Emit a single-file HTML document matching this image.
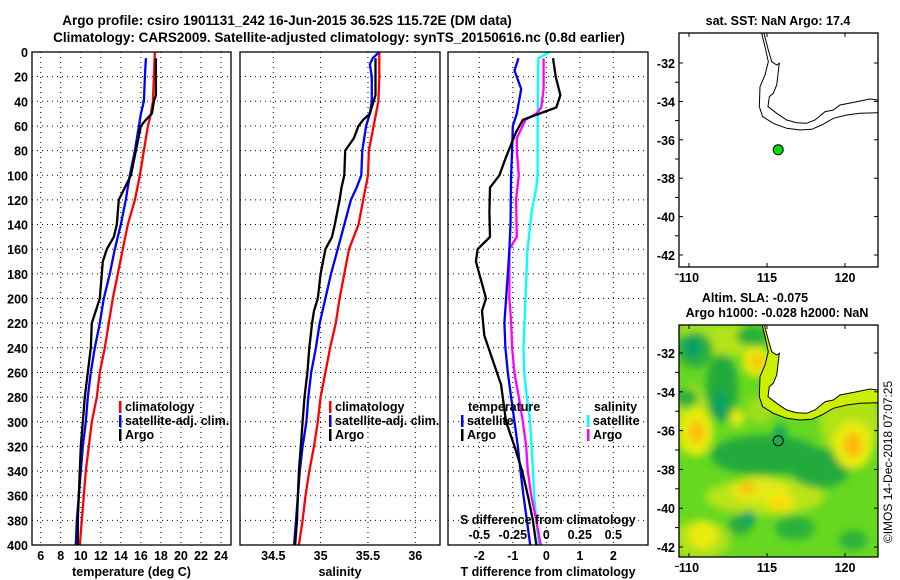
<!DOCTYPE html>
<html><head><meta charset="utf-8">
<style>
html,body{margin:0;padding:0;background:#fff;}
svg{display:block;font-family:"Liberation Sans",sans-serif;font-weight:bold;}
</style></head>
<body>
<svg id="fig" width="900" height="580" viewBox="0 0 900 580" xmlns="http://www.w3.org/2000/svg">
<defs>
<filter id="blur" x="-50%" y="-50%" width="200%" height="200%"><feGaussianBlur stdDeviation="4"/></filter>
<clipPath id="map2clip"><rect x="679" y="325" width="199" height="232"/></clipPath>
</defs>
<text x="287" y="25" font-size="13.5" text-anchor="middle">Argo profile: csiro 1901131_242 16-Jun-2015 36.52S 115.72E (DM data)</text>
<text x="339" y="42" font-size="13.5" text-anchor="middle">Climatology: CARS2009. Satellite-adjusted climatology: synTS_20150616.nc (0.8d earlier)</text>
<g id="panels"></g>
<g id="maps"></g>
<text transform="translate(892,462) rotate(-90)" font-size="12" font-weight="normal" text-anchor="middle">©IMOS 14-Dec-2018 07:07:25</text>
</svg>
<script>
// ---- Depth axis ----
const depthTicks = [0,20,40,60,80,100,120,140,160,180,200,220,240,260,280,300,320,340,360,380,400];
// ---- Panel 1: temperature ----
const tempTicks = [6,8,10,12,14,16,18,20,22,24];
const tClimDepth = [0,20,40,50,60,80,100,120,140,160,180,200,220,240,260,280,300,320,340,360,380,400];
const tClimVal   = [17.4,17.3,17.2,17.0,16.7,16.3,15.9,15.4,14.7,14.2,13.7,13.2,12.8,12.4,11.9,11.6,11.1,10.8,10.5,10.3,10.1,9.9];
const tSatDepth = [5,20,40,50,60,80,100,120,140,160,180,200,220,240,260,280,300,320,340,360,380,400];
const tSatVal   = [16.5,16.4,16.3,16.0,15.8,15.4,14.9,14.5,14.0,13.4,12.9,12.3,11.9,11.4,11.0,10.7,10.5,10.2,10.0,9.8,9.6,9.5];
const tArgoDepth = [5,20,35,40,50,55,60,80,100,120,140,150,160,170,180,200,220,240,260,280,300,320,340,360,380,400];
const tArgoVal   = [17.5,17.5,17.5,17.3,17.1,16.5,16.0,15.5,15.0,13.8,13.6,13.3,12.6,12.2,12.1,11.9,11.1,11.0,10.7,10.4,10.2,10.0,9.9,9.8,9.7,9.7];
// ---- Panel 2: salinity ----
const salTicks = [34.5,35,35.5,36];
const sClimDepth = [0,20,40,60,80,100,120,140,160,180,200,220,240,260,280,300,320,340,360,380,400];
const sClimVal   = [35.62,35.62,35.61,35.56,35.51,35.5,35.45,35.4,35.3,35.25,35.2,35.16,35.1,35.05,35.0,34.97,34.93,34.88,34.84,34.81,34.77];
const sSatDepth = [0,5,10,20,40,50,60,80,100,110,120,140,160,180,200,220,240,260,280,300,320,340,360,380,400];
const sSatVal   = [35.62,35.55,35.52,35.54,35.54,35.52,35.48,35.44,35.43,35.38,35.32,35.25,35.18,35.11,35.05,34.99,34.95,34.9,34.87,34.85,34.81,34.78,34.76,34.74,34.72];
const sArgoDepth = [5,20,35,40,50,55,60,70,80,100,110,120,140,150,160,180,200,210,220,240,260,280,300,320,340,360,380,400];
const sArgoVal   = [35.58,35.58,35.58,35.56,35.52,35.45,35.4,35.35,35.26,35.25,35.22,35.2,35.15,35.12,35.05,35.0,34.97,34.93,34.91,34.88,34.86,34.83,34.81,34.79,34.77,34.76,34.75,34.73];
// ---- Panel 3: differences ----
const tDiffTicks = [-2,-1,0,1,2];
const sDiffTicks = [-0.5,-0.25,0,0.25,0.5];
const sDiffTickLabels = ["-0.5","-0.25","0","0.25","0.5"];
const dTSatDepth = [5,15,30,50,60,80,100,140,160,180,220,240,260,280,300,320,340,360,380,400];
const dTSatVal   = [-0.83,-0.95,-0.75,-0.88,-1.0,-1.02,-1.05,-1.07,-1.1,-1.15,-1.25,-1.22,-1.15,-1.05,-0.95,-0.85,-0.77,-0.68,-0.58,-0.48];
const dTArgoDepth = [5,20,35,45,50,55,65,85,100,110,130,150,160,170,190,200,210,230,250,270,290,300,320,340,360,380,400];
const dTArgoVal   = [0.2,0.28,0.42,0.3,-0.2,-0.7,-0.9,-1.2,-1.4,-1.68,-1.7,-1.68,-2.05,-2.1,-1.9,-1.8,-1.92,-1.85,-1.6,-1.35,-1.25,-1.2,-0.95,-0.72,-0.55,-0.4,-0.3];
const dSSatDepth = [0,5,20,40,60,100,110,130,160,200,240,260,280,300,320,340,360,380,400];
const dSSatVal   = [0.025,-0.06,-0.062,-0.062,-0.065,-0.065,-0.075,-0.11,-0.14,-0.155,-0.17,-0.165,-0.145,-0.12,-0.11,-0.1,-0.09,-0.075,-0.055];
const dSArgoDepth = [5,30,45,50,55,70,80,100,120,150,160,200,220,240,260,280,300,320,340,360,380,400];
const dSArgoVal   = [-0.02,-0.02,-0.038,-0.075,-0.155,-0.22,-0.22,-0.205,-0.225,-0.22,-0.275,-0.275,-0.262,-0.255,-0.238,-0.205,-0.175,-0.15,-0.138,-0.112,-0.075,-0.042];
// ---- Maps ----
const latTicks = [-32,-34,-36,-38,-40,-42];
const lonTicks = [110,115,120];
const argoLon = 115.72, argoLat = -36.52;

const NS="http://www.w3.org/2000/svg";
function mk(tag, attrs, parent){const e=document.createElementNS(NS,tag);for(const k in attrs)e.setAttribute(k,attrs[k]);parent.appendChild(e);return e;}

const Y0=52, Y1=545;
const yD = d => Y0 + d*(Y1-Y0)/400;
const panels = document.getElementById('panels');

function linScale(v0,p0,v1,p1){return v=>p0+(v-v0)*(p1-p0)/(v1-v0);}

function drawPanel(name,x0,x1,sx,ticks,tickLabels,xlabel,showDepth){
  const g = mk('g',{},panels);
  
  
  ticks.forEach(t=>{
    const l=mk('line',{x1:sx(t),x2:sx(t),y1:Y0,y2:Y1,stroke:'#000','stroke-width':1,'stroke-dasharray':'1,4'},g);
    
    
  });
  depthTicks.forEach(d=>{
    if(d===0||d===400) return;
    const l=mk('line',{x1:x0,x2:x1,y1:yD(d),y2:yD(d),stroke:'#000','stroke-width':1,'stroke-dasharray':'1,4'},g);
    
    
  });
  ticks.forEach((t,i)=>{
    const tx=mk('text',{x:sx(t),y:560,'font-size':12.5,'text-anchor':'middle'},g);
    tx.textContent = tickLabels[i];
    
    
  });
  const xl=mk('text',{x:(x0+x1)/2,y:576,'font-size':12.5,'text-anchor':'middle'},g);
  xl.textContent = xlabel;
  
  
  if(showDepth){
    depthTicks.forEach(d=>{
      const tx=mk('text',{x:28,y:yD(d)+5,'font-size':12.5,'text-anchor':'end'},g);
      tx.textContent = d;
      
      
    });
  }
  return g;
}
function frame(g,x0,x1){
  const r=mk('rect',{x:x0,y:Y0,width:x1-x0,height:Y1-Y0,fill:'none',stroke:'#000','stroke-width':1.3},g);
  
  
}
function series(g,name,depths,vals,sx,color,w){
  const pts = depths.map((d,i)=>sx(vals[i]).toFixed(1)+','+yD(d).toFixed(1)).join(' ');
  const p=mk('polyline',{points:pts,fill:'none',stroke:color,'stroke-width':w||2.3,'stroke-linejoin':'round'},g);
  
  
}
function legendRow(g,name,x,y,color,label){
  const b=mk('rect',{x:x,y:y-10,width:2.5,height:12,fill:color},g);
  
  
  const t=mk('text',{x:x+6,y:y,'font-size':12.5},g);
  t.textContent=label;
  
  
}

// Panel 1
const sxT = linScale(6,40.7,24,221);
const g1 = drawPanel('temperature-panel',32,231,sxT,tempTicks,tempTicks.map(String),'temperature (deg C)',true);
series(g1,'temp-climatology-line',tClimDepth,tClimVal,sxT,'#ff0000');
series(g1,'temp-satellite-line',tSatDepth,tSatVal,sxT,'#0000ff');
series(g1,'temp-argo-line',tArgoDepth,tArgoVal,sxT,'#000000');
frame(g1,32,231);
legendRow(g1,'legend-climatology',119,411,'#ff0000','climatology');
legendRow(g1,'legend-satellite-adj',119,425,'#0000ff','satellite-adj. clim.');
legendRow(g1,'legend-argo',119,439,'#000000','Argo');

// Panel 2
const sxS = linScale(34.5,273.3,36,415.3);
const g2 = drawPanel('salinity-panel',240,440,sxS,salTicks,["34.5","35","35.5","36"],'salinity',false);
series(g2,'sal-climatology-line',sClimDepth,sClimVal,sxS,'#ff0000');
series(g2,'sal-satellite-line',sSatDepth,sSatVal,sxS,'#0000ff');
series(g2,'sal-argo-line',sArgoDepth,sArgoVal,sxS,'#000000');
frame(g2,240,440);
legendRow(g2,'legend-climatology',329,411,'#ff0000','climatology');
legendRow(g2,'legend-satellite-adj',329,425,'#0000ff','satellite-adj. clim.');
legendRow(g2,'legend-argo',329,439,'#000000','Argo');

// Panel 3
const sxD = linScale(-2,479.3,2,613.3);
const sxSD = linScale(-0.5,479.3,0.5,613.3);
const g3 = drawPanel('difference-panel',448,648,sxD,tDiffTicks,tDiffTicks.map(String),'T difference from climatology',false);
series(g3,'sdiff-satellite-line',dSSatDepth,dSSatVal,sxSD,'#00ffff');
series(g3,'sdiff-argo-line',dSArgoDepth,dSArgoVal,sxSD,'#ff00ff');
series(g3,'tdiff-satellite-line',dTSatDepth,dTSatVal,sxD,'#0000ff');
series(g3,'tdiff-argo-line',dTArgoDepth,dTArgoVal,sxD,'#000000');
frame(g3,448,648);
(function(){
  const t=mk('text',{x:468,y:411,'font-size':12.5},g3); t.textContent='temperature';
   
  const s=mk('text',{x:594,y:411,'font-size':12.5},g3); s.textContent='salinity';
   
})();
legendRow(g3,'legend-t-satellite',461,425,'#0000ff','satellite');
legendRow(g3,'legend-t-argo',461,439,'#000000','Argo');
legendRow(g3,'legend-s-satellite',587,425,'#00ffff','satellite');
legendRow(g3,'legend-s-argo',587,439,'#ff00ff','Argo');
(function(){
  const t=mk('text',{x:460,y:524,'font-size':12.5},g3); t.textContent='S difference from climatology';
   
  sDiffTicks.forEach((v,i)=>{
    const tx=mk('text',{x:sxSD(v),y:539,'font-size':12.5,'text-anchor':'middle'},g3);
    tx.textContent=sDiffTickLabels[i];
    
    
  });
})();

// ---- Maps ----
const maps = document.getElementById('maps');
const MX0=679, MX1=878;
const lonX = linScale(110,689,120,845);
const coastLand = [[372,100],[385,150],[395,185],[410,195],[418,190],[415,215],[410,255],[400,280],[388,290],[384,320],[410,340],[440,360],[470,368],[500,370],[525,360],[555,335],[580,330],[600,315],[650,305],[690,297],[713,300]];
const coastShelf = [[365,100],[375,140],[385,185],[375,225],[360,260],[358,320],[368,350],[400,370],[440,385],[480,390],[515,388],[545,375],[580,355],[620,345],[660,340],[713,338]];
function cpts(arr,dy){return arr.map(p=>(640+p[0]/3).toFixed(1)+','+(p[1]/3+dy).toFixed(1)).join(' ');}

function mapAxes(g,top,bottom,latY,titleLines){
  titleLines.forEach(tl=>{
    const t=mk('text',{x:tl[0],y:tl[1],'font-size':12.5,'text-anchor':'middle'},g);
    t.textContent=tl[2];
    
    
  });
  latTicks.forEach(l=>{
    const t=mk('text',{x:675,y:latY(l)+5,'font-size':12.5,'text-anchor':'end'},g);
    t.textContent=l;
    
    
    mk('line',{x1:MX0,x2:MX0+4,y1:latY(l),y2:latY(l),stroke:'#000'},g);
    mk('line',{x1:MX1-4,x2:MX1,y1:latY(l),y2:latY(l),stroke:'#000'},g);
    mk('line',{x1:MX0-4,x2:MX0,y1:latY(l-1),y2:latY(l-1),stroke:'#000'},g);
  });
  lonTicks.forEach(l=>{
    const t=mk('text',{x:lonX(l),y:bottom+15,'font-size':12.5,'text-anchor':'middle'},g);
    t.textContent=l;
    
    
    mk('line',{x1:lonX(l),x2:lonX(l),y1:top,y2:top+4,stroke:'#000'},g);
    mk('line',{x1:lonX(l),x2:lonX(l),y1:bottom-4,y2:bottom,stroke:'#000'},g);
  });
  const r=mk('rect',{x:MX0,y:top,width:MX1-MX0,height:bottom-top,fill:'none',stroke:'#000','stroke-width':1.3},g);
  
  
}

// Map 1
const m1 = mk('g',{},maps);


const lat1 = linScale(-32,63,-42,255);
(function(){
  const a=mk('polyline',{points:cpts(coastLand,0),fill:'none',stroke:'#000','stroke-width':1},m1);
   
  const b=mk('polyline',{points:cpts(coastShelf,0),fill:'none',stroke:'#000','stroke-width':1},m1);
   
  const c=mk('circle',{cx:lonX(argoLon),cy:lat1(argoLat),r:5,fill:'#00dd00',stroke:'#000','stroke-width':1},m1);
   
})();
mapAxes(m1,33,267,lat1,[[778,25,'sat. SST: NaN Argo: 17.4','sst-map-title']]);

// Map 2
const m2 = mk('g',{},maps);


const lat2 = linScale(-32,353,-42,547);
const heat = mk('g',{'clip-path':'url(#map2clip)'},m2);


mk('rect',{x:679,y:325,width:199,height:232,fill:'#66d820'},heat);
const blobs = mk('g',{filter:'url(#blur)'},heat);
const blobList = [
 // yellow-green areas
 [730,340,30,16,'#b4e418'],[700,330,20,10,'#a8e21a'],[765,497,60,18,'#b8e418'],[700,540,30,20,'#aee01a'],
 [850,420,30,40,'#b0e218'],[690,420,18,35,'#b8e418'],[760,410,14,14,'#a0de1c'],
 // dark green regions
 [765,455,55,20,'#20aa3c'],[820,468,30,20,'#20aa3c'],[722,388,16,34,'#22aa3c'],[752,336,16,10,'#28b03a'],
 [686,398,12,10,'#2cb23a'],[795,528,20,12,'#2cb23a'],[853,540,14,10,'#2cb23a'],[695,350,18,18,'#2aae3c'],
 [740,525,12,10,'#2aae3c'],
 // yellow patches
 [757,362,15,15,'#e8ec10'],[697,432,16,24,'#e8ec10'],[853,445,20,24,'#e8ec10'],[760,490,30,13,'#e2ea12'],
 [703,535,15,14,'#e8ec10'],[781,503,14,9,'#f0e80c'],[737,418,7,9,'#e8ec10'],
 // teal cores
 [693,347,8,11,'#00a068'],[720,405,6,14,'#00a068'],[780,432,6,8,'#10a468'],[748,518,8,7,'#00a068'],
 // orange cores
 [757,362,7,7,'#fcc00a'],[697,432,8,12,'#fcc00a'],[853,445,9,12,'#fcb808'],[747,488,9,6,'#fcc00a'],[780,504,7,5,'#fcd40a']
];
blobList.forEach(b=>{
  const e=mk('ellipse',{cx:b[0],cy:b[1],rx:b[2],ry:b[3],fill:b[4]},blobs);
  
  
});
(function(){
  const shelfPoly = cpts(coastShelf,290)+' 878,'+(338/3+290)+' 878,325 '+(640+365/3)+',325';
  const s=mk('polygon',{points:shelfPoly,fill:'#ccee00'},heat);
   
  const landPoly = cpts(coastLand,290)+' 878,'+(300/3+290)+' 878,325 '+(640+372/3)+',325';
  const l=mk('polygon',{points:landPoly,fill:'#ffffff'},heat);
   
  const a=mk('polyline',{points:cpts(coastLand,290),fill:'none',stroke:'#000','stroke-width':1},heat);
   
  const b=mk('polyline',{points:cpts(coastShelf,290),fill:'none',stroke:'#000','stroke-width':1},heat);
   
  const c=mk('circle',{cx:lonX(argoLon),cy:lat2(argoLat),r:5,fill:'none',stroke:'#000','stroke-width':1},m2);
   
})();
mapAxes(m2,325,557,lat2,[[755,302,'Altim. SLA: -0.075','sla-map-title'],[777,317,'Argo h1000: -0.028 h2000: NaN','steric-height-title']]);
</script>
</body></html>
